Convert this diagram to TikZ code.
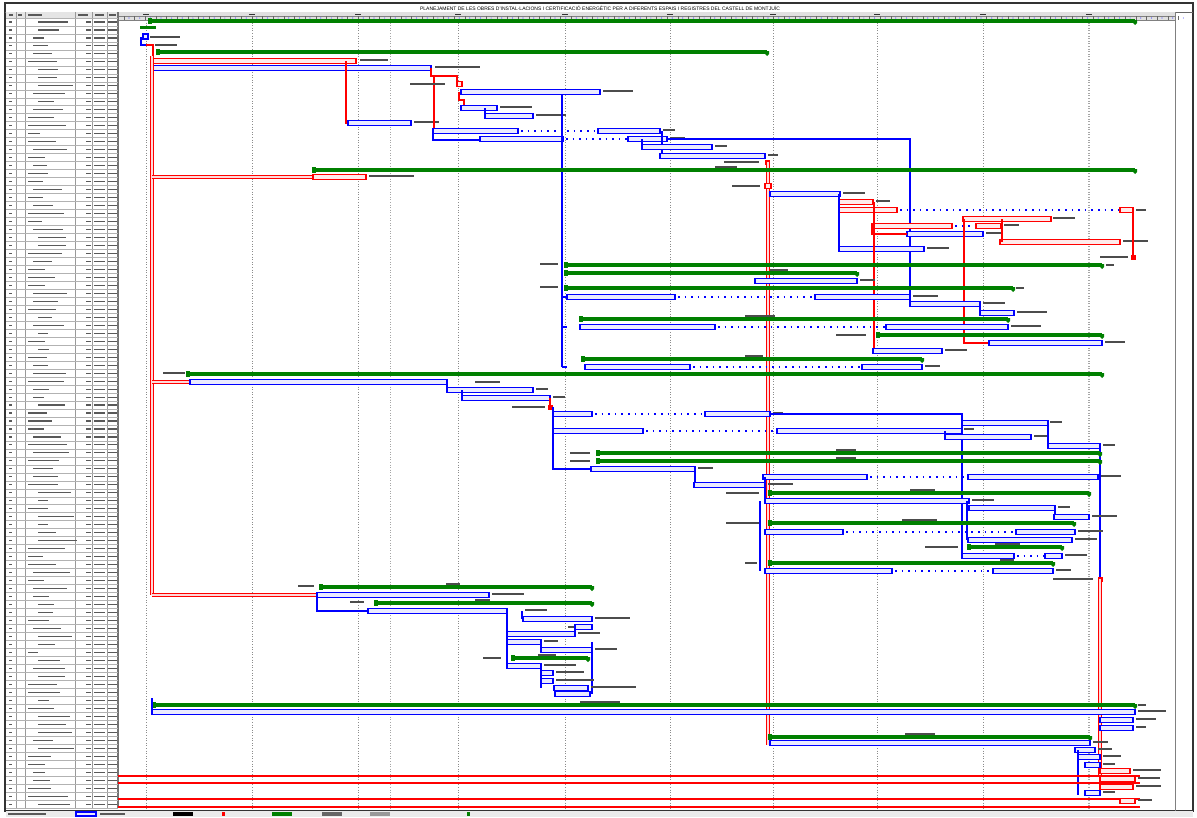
\documentclass[tikz,border=0pt]{standalone}
\usepackage{fontspec}
\setmainfont{Liberation Sans}
\definecolor{gb}{RGB}{0,0,255}
\definecolor{gr}{RGB}{255,0,0}
\definecolor{gg}{RGB}{0,128,0}
\tikzset{
  bbar/.style={draw=gb,fill=gb!8,line width=1.3pt},
  rbar/.style={draw=gr,fill=gr!8,line width=1.3pt},
  gsum/.style={fill=gg},
  bl/.style={draw=gb,line width=1.3pt},
  rl/.style={draw=gr,line width=1.3pt},
  rdl/.style={draw=gr,double=gr!15,double distance=1.4pt,line width=1.1pt},
  bdots/.style={draw=gb,line width=1.8pt,dash pattern=on 1.6pt off 5pt},
  gridl/.style={draw=black!45,line width=0.6pt,dash pattern=on 1pt off 1.6pt},
  lbl/.style={draw=black!70,line width=1.1pt},
  tmark/.style={draw=black!65,line width=1.1pt},
  rowl/.style={draw=black!30,line width=0.6pt},
}
\newcommand\tbb[3]{\draw[bbar] (#1,#3-2.8) rectangle (#2,#3+2.8);}
\newcommand\tbr[3]{\draw[rbar] (#1,#3-2.8) rectangle (#2,#3+2.8);}
\newcommand\sg[3]{\fill[gsum] (#1,#3-2.2) rectangle (#2,#3+2.2);
  \fill[gsum] (#1-4,#3-3) rectangle (#1,#3+3);
  \fill[gsum] (#2-2,#3-1) -- (#2+2,#3-1) -- (#2+2,#3+2) -- (#2,#3+4) -- (#2-2,#3+2) -- cycle;}
\newcommand\bdt[3]{\draw[bdots] (#1+3,#3) -- (#2,#3);}
\newcommand\lb[3]{\draw[lbl] (#1,#2) -- ++(#3,0);}
\newcommand\rms[2]{\fill[gr] (#1-2.5,#2-2.5) rectangle (#1+2.5,#2+2.5);}
\begin{document}
\begin{tikzpicture}[x=1pt,y=-1pt]
\useasboundingbox (0,0) rectangle (1197,817);
\fill[white] (0,0) rectangle (1197,817);
% ---------- frame and title
\draw[black!80,line width=1.2pt] (5,3) rectangle (1193,811);
\draw[black!60,line width=0.8pt] (5,12) -- (1193,12);
\node[font=\fontsize{5}{6}\selectfont,inner sep=0] (title) at (600,8)
  {PLANEJAMENT DE LES OBRES D'INSTAL·LACIONS I CERTIFICACIÓ ENERGÈTIC PER A DIFERENTS ESPAIS I REGISTRES DEL CASTELL DE MONTJUÏC};
\draw[black!50,line width=1pt] (1175,12) -- (1175,811);
% ---------- timescale
\fill[black!12] (118,12) rectangle (1175,20);
\draw[black!50,line width=0.5pt] (118,16) -- (1175,16);
\draw[black!50,line width=0.5pt] (118,20) -- (1175,20);
\foreach \k in {0,...,99}{
  \pgfmathsetmacro\xx{124+\k*10.65}
  \draw[black!60,line width=0.4pt] (\xx,16) -- (\xx,20);
  \fill[gb!70] (\xx+5,18) circle (0.6);
}
\foreach \x in {146,252,358,458,565,670,773,877,983,1089}{
  \draw[black!80,line width=1pt] (\x-3,14) -- (\x+3,14);
}
% ---------- grid lines
\foreach \x in {146,252,358,458,565,670,773,877,983}{
  \draw[gridl] (\x,20) -- (\x,808);
}
\draw[gridl,line width=1pt,draw=black!35] (390,20) -- (390,808);
\draw[gridl,line width=1.1pt,draw=black!35] (1089,20) -- (1089,808);
% ---------- table
\fill[black!10] (6,12) rectangle (118,18);
\foreach \x in {16,25,75,92,107}{
  \draw[black!40,line width=0.6pt] (\x,12) -- (\x,808);
}
\draw[black!55,line width=1.6pt] (118,12) -- (118,808);
\foreach \x/\l in {9/4,18/4,28/14,78/10,95/9,109/7}{
  \draw[tmark] (\x,15) -- ++(\l,0);
}
\pgfmathsetseed{11}
\foreach \i in {0,...,98}{
  \pgfmathsetmacro\yy{18+\i*7.98}
  \pgfmathsetmacro\yc{\yy+4}
  \pgfmathsetmacro\ll{10+rnd*30}
  \pgfmathsetmacro\ind{28+int(rnd*3)*5}
  \draw[rowl] (6,\yy) -- (118,\yy);
  \draw[tmark] (9,\yc) -- ++(3,0);
  \draw[tmark] (\ind,\yc) -- ++(\ll,0);
  \draw[tmark] (86,\yc) -- ++(5,0);
  \draw[tmark] (94,\yc) -- ++(11,0);
  \draw[tmark] (108,\yc) -- ++(9,0);
}
\draw[rowl] (6,808) -- (118,808);
% ---------- bottom legend
\fill[black!8] (6,811) rectangle (1193,817);
\draw[tmark] (8,814) -- ++(38,0);
\draw[bbar] (76,812) rectangle (96,816);
\draw[tmark] (100,814) -- ++(25,0);
\fill[black] (173,812) rectangle (193,816);
\fill[gr] (222,812) rectangle (225,816);
\fill[gg] (272,812) rectangle (292,816);
\fill[black!60] (322,812) rectangle (342,816);
\fill[black!40] (370,812) rectangle (390,816);
\fill[gg] (467,812) rectangle (470,816);
% ================= GANTT =================
% top block
\sg{152}{1135}{21}
\fill[gg] (140,26) rectangle (156,29);
\draw[bbar] (143,34) rectangle (148,39);
\draw[bl] (141,37) -- (141,45) -- (146,45);
\draw[rl] (146,45) -- (153,45) -- (153,58);
\lb{150}{37}{30}\lb{155}{45}{22}
\sg{160}{767}{52}
\tbr{152}{356}{61}\lb{360}{60}{28}
\tbb{152}{431}{68}\lb{435}{67}{45}
\draw[rdl] (152,56) -- (152,595);
\draw[rdl] (152,177) -- (313,177);
\draw[rdl] (152,382) -- (190,382);
\draw[rdl] (152,595) -- (317,595);
\draw[rl] (346,61) -- (346,123) -- (348,123);
\tbb{348}{411}{123}\lb{414}{122}{25}
\draw[rl] (431,68) -- (431,76) -- (457,76) -- (457,84);
\draw[rl] (434,76) -- (434,131);
\tbr{457}{462}{84}\lb{410}{84}{35}
\tbb{461}{600}{92}\lb{603}{91}{30}
\draw[rl] (459,92) -- (459,100) -- (464,100) -- (464,106);
\tbb{461}{497}{108}\lb{500}{107}{32}
\draw[bl] (485,108) -- (485,116);
\tbb{485}{533}{116}\lb{536}{115}{30}
\tbb{433}{518}{131}\bdt{518}{598}{131}\tbb{598}{660}{131}\lb{663}{130}{12}
\draw[bl] (433,131) -- (433,140) -- (480,140);
\tbb{480}{563}{139}\bdt{563}{628}{139}\tbb{628}{667}{139}\lb{670}{138}{15}
\draw[bl] (667,139) -- (910,139) -- (910,304);
\draw[bl] (562,95) -- (562,367);
\draw[bl] (642,139) -- (642,147);
\draw[bl] (662,131) -- (662,156);
\tbb{642}{712}{147}\lb{715}{146}{12}
\tbb{660}{765}{156}\lb{768}{155}{10}
\rms{767}{162}\lb{724}{162}{35}
\draw[rdl] (768,162) -- (768,745);
\sg{316}{1135}{170}\lb{715}{167}{22}
\tbr{313}{366}{177}\lb{369}{176}{45}
\tbr{765}{771}{186}\lb{732}{186}{28}
\tbb{770}{840}{194}\lb{843}{193}{22}
\tbr{839}{873}{202}\lb{876}{201}{14}
\tbr{839}{897}{210}\bdt{897}{1120}{210}\tbr{1120}{1133}{210}\lb{1136}{210}{10}
\tbr{963}{1051}{219}\lb{1053}{218}{22}
\tbr{872}{952}{226}\bdt{952}{976}{226}\tbr{976}{1001}{226}\lb{1004}{225}{15}
\tbb{907}{983}{234}\lb{986}{233}{15}
\tbr{1000}{1120}{242}\lb{1123}{241}{25}
\tbb{839}{924}{249}\lb{927}{248}{22}
\rms{1133}{257}\lb{1100}{257}{28}
\draw[bl] (839,194) -- (839,249);
\draw[rl] (874,202) -- (874,351);
\draw[rl] (872,226) -- (872,234) -- (907,234);
\draw[rl] (964,219) -- (964,343) -- (989,343);
\draw[rl] (1002,219) -- (1002,242);
\draw[rl] (1133,210) -- (1133,257);
% block 265-367
\sg{568}{1102}{265}\lb{1106}{265}{8}\lb{540}{264}{18}
\sg{568}{857}{273}\lb{770}{270}{18}
\tbb{755}{857}{281}\lb{860}{280}{15}
\sg{568}{1013}{288}\lb{1016}{288}{8}\lb{540}{287}{18}
\tbb{567}{675}{297}\bdt{675}{815}{297}\tbb{815}{910}{297}\lb{913}{296}{25}
\tbb{910}{980}{304}\lb{983}{303}{22}
\draw[bl] (980,304) -- (980,313);
\tbb{980}{1014}{313}\lb{1017}{312}{30}
\sg{583}{1008}{319}\lb{745}{316}{30}
\tbb{580}{715}{327}\bdt{715}{886}{327}\tbb{886}{1008}{327}\lb{1011}{326}{30}
\sg{880}{1102}{335}\lb{836}{335}{30}
\tbb{989}{1102}{343}\lb{1105}{342}{20}
\tbb{873}{942}{351}\lb{945}{350}{22}
\sg{585}{922}{359}\lb{745}{356}{18}
\tbb{585}{690}{367}\bdt{690}{862}{367}\tbb{862}{922}{367}\lb{925}{366}{15}
\foreach \y in {297,327,367}{\draw[bl] (562,\y) -- (567,\y);}
% block 374-579
\sg{190}{1102}{374}\lb{163}{373}{22}
\tbb{190}{447}{382}\lb{475}{382}{25}
\draw[bl] (447,382) -- (447,390);
\tbb{447}{533}{390}\lb{536}{389}{12}
\draw[bl] (462,390) -- (462,398);
\tbb{462}{550}{398}\lb{553}{397}{12}
\draw[rl] (550,398) -- (550,407);
\rms{550}{407}\lb{512}{407}{33}
\tbb{553}{592}{414}\bdt{592}{705}{414}\tbb{705}{770}{414}\lb{773}{413}{10}
\draw[bl] (770,414) -- (962,414) -- (962,556);
\tbb{962}{1048}{423}\lb{1050}{422}{12}
\tbb{553}{643}{431}\bdt{643}{777}{431}\tbb{777}{962}{431}\lb{964}{429}{10}
\draw[bl] (945,431) -- (945,437);
\tbb{945}{1031}{437}\lb{1034}{436}{14}
\draw[bl] (1048,423) -- (1048,446);
\tbb{1048}{1100}{446}\lb{1103}{445}{12}
\draw[bl] (1100,446) -- (1100,579);
\sg{600}{1100}{453}\lb{836}{450}{20}\lb{570}{453}{20}
\sg{600}{1100}{461}\lb{836}{458}{20}\lb{570}{461}{20}
\draw[bl] (553,407) -- (553,469) -- (591,469);
\tbb{591}{695}{469}\lb{698}{468}{15}
\tbb{763}{867}{477}\bdt{867}{968}{477}\tbb{968}{1098}{477}\lb{1101}{476}{20}
\draw[bl] (695,469) -- (695,485);
\tbb{694}{765}{485}\lb{768}{484}{25}
\sg{772}{1089}{493}\lb{726}{493}{33}\lb{910}{490}{25}
\draw[bl] (765,477) -- (765,501);
\tbb{765}{969}{501}\lb{972}{500}{22}
\draw[bl] (760,501) -- (760,571);
\tbb{969}{1055}{508}\lb{1058}{507}{12}
\draw[bl] (967,501) -- (967,540);
\draw[bl] (1055,508) -- (1055,517);
\tbb{1054}{1089}{517}\lb{1092}{516}{25}
\sg{772}{1074}{523}\lb{726}{523}{33}\lb{902}{520}{35}
\tbb{765}{843}{532}\bdt{843}{1016}{532}\tbb{1016}{1075}{532}\lb{1078}{531}{25}
\tbb{968}{1072}{540}\lb{1075}{539}{22}
\sg{971}{1062}{547}\lb{925}{547}{33}\lb{995}{544}{25}
\tbb{962}{1014}{556}\bdt{1014}{1045}{556}\tbb{1045}{1062}{556}\lb{1065}{555}{22}
\sg{772}{1053}{563}\lb{745}{563}{12}\lb{1000}{560}{14}
\tbb{765}{892}{571}\bdt{892}{993}{571}\tbb{993}{1053}{571}\lb{1056}{570}{15}
\rms{1100}{579}\lb{1053}{579}{40}
\draw[rdl] (1100,579) -- (1100,775);
% block 587-694
\sg{323}{592}{587}\lb{298}{586}{16}\lb{446}{584}{14}
\tbb{317}{489}{595}\lb{492}{594}{32}
\sg{378}{592}{603}\lb{350}{602}{14}\lb{475}{600}{15}
\draw[bl] (317,595) -- (317,611) -- (368,611);
\tbb{368}{507}{611}\lb{525}{610}{22}
\draw[bl] (522,611) -- (522,619);
\tbb{523}{592}{619}\lb{595}{618}{35}
\tbb{575}{592}{627}\lb{568}{627}{6}
\draw[bl] (507,611) -- (507,666);
\draw[bl] (575,627) -- (575,634);
\tbb{507}{575}{634}\lb{578}{633}{22}
\tbb{507}{541}{642}\lb{544}{641}{14}
\draw[bl] (541,642) -- (541,650);
\tbb{541}{592}{650}\lb{595}{649}{22}
\draw[bl] (592,642) -- (592,694);
\sg{515}{588}{658}\lb{483}{658}{18}\lb{538}{655}{18}
\tbb{507}{541}{666}\lb{544}{665}{32}
\draw[bl] (541,666) -- (541,688);
\tbb{541}{553}{673}\lb{556}{672}{28}
\tbb{541}{553}{681}\lb{556}{680}{38}
\tbb{554}{588}{688}\lb{591}{687}{45}
\tbb{555}{590}{694}
% block 705-808
\sg{156}{1135}{705}\lb{580}{702}{40}\lb{1138}{705}{8}
\draw[bl] (152,698) -- (152,712);
\tbb{152}{1135}{712}\lb{1138}{711}{28}
\tbb{1100}{1133}{720}\lb{1136}{719}{20}
\tbb{1100}{1133}{728}\lb{1136}{727}{10}
\sg{772}{1090}{737}\lb{905}{734}{30}
\tbb{770}{1090}{743}\lb{1093}{742}{15}
\tbb{1075}{1095}{750}\lb{1098}{749}{14}
\tbb{1078}{1100}{757}\lb{1103}{756}{18}
\tbb{1085}{1100}{765}\lb{1103}{764}{12}
\draw[bl] (1078,750) -- (1078,795);
% full width red lines
\foreach \y in {776,783,799,807}{
  \draw[gr,line width=1.3pt] (118,\y) -- (1140,\y);
}
\tbr{1100}{1130}{771}\lb{1133}{770}{28}
\tbr{1100}{1135}{779}\lb{1138}{778}{22}
\tbr{1100}{1133}{787}\lb{1136}{786}{25}
\tbb{1085}{1100}{793}\lb{1103}{792}{12}
\tbr{1120}{1135}{801}\lb{1138}{800}{14}
\end{tikzpicture}
\end{document}
